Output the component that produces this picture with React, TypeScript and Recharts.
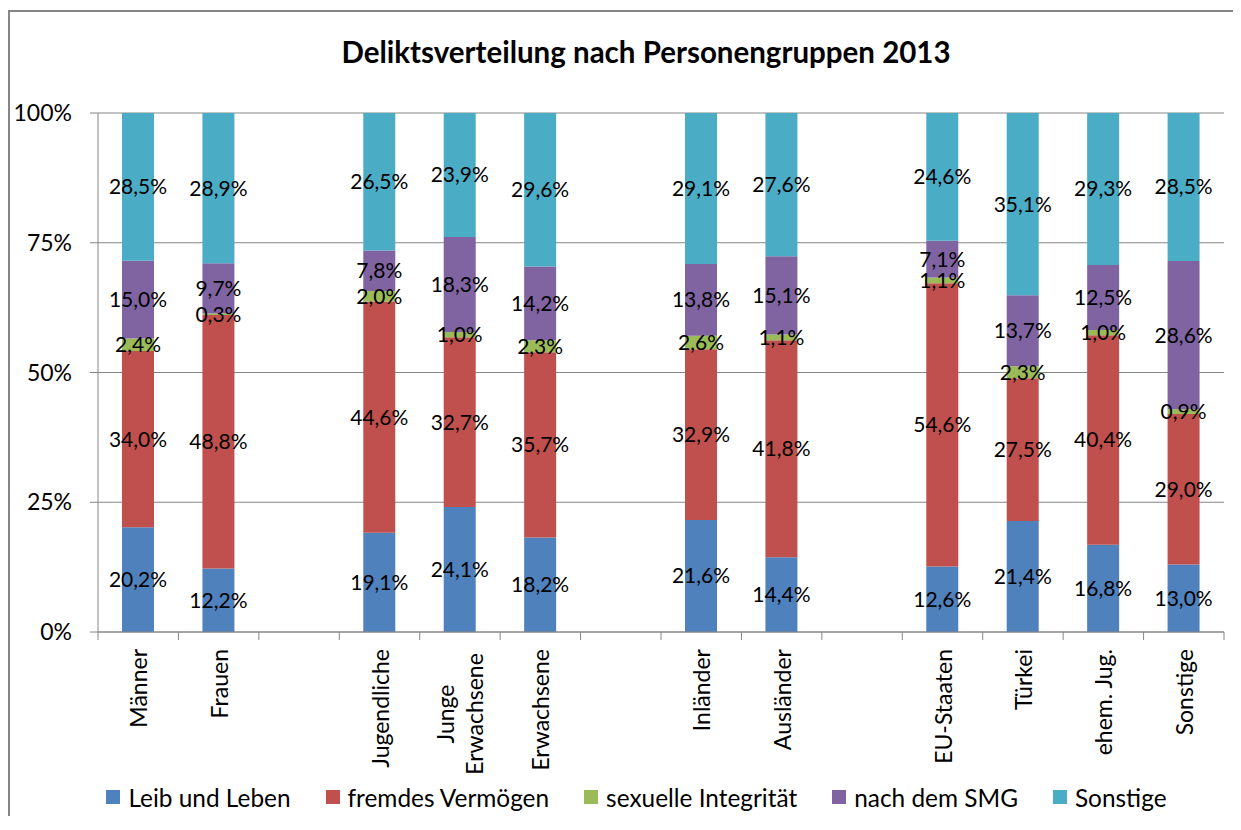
import React from "react";
import { BarChart, Bar, XAxis, YAxis, CartesianGrid, Legend, LabelList } from "recharts";

// empty strings are the gaps between groups
const categories = [
  "Männer",
  "Frauen",
  "",
  "Jugendliche",
  "Junge\nErwachsene",
  "Erwachsene",
  "",
  "Inländer",
  "Ausländer",
  "",
  "EU-Staaten",
  "Türkei",
  "ehem. Jug.",
  "Sonstige",
];

const leibUndLeben = [20.2, 12.2, null, 19.1, 24.1, 18.2, null, 21.6, 14.4, null, 12.6, 21.4, 16.8, 13.0];
const fremdesVermoegen = [34.0, 48.8, null, 44.6, 32.7, 35.7, null, 32.9, 41.8, null, 54.6, 27.5, 40.4, 29.0];
const sexuelleIntegritaet = [2.4, 0.3, null, 2.0, 1.0, 2.3, null, 2.6, 1.1, null, 1.1, 2.3, 1.0, 0.9];
const nachDemSMG = [15.0, 9.7, null, 7.8, 18.3, 14.2, null, 13.8, 15.1, null, 7.1, 13.7, 12.5, 28.6];
const sonstige = [28.5, 28.9, null, 26.5, 23.9, 29.6, null, 29.1, 27.6, null, 24.6, 35.1, 29.3, 28.5];

const yTicks = [0, 0.25, 0.5, 0.75, 1];

const series = [
  { key: "leib", name: "Leib und Leben", color: "#4F81BD", values: leibUndLeben },
  { key: "fremd", name: "fremdes Vermögen", color: "#C0504D", values: fremdesVermoegen },
  { key: "sex", name: "sexuelle Integrität", color: "#9BBB59", values: sexuelleIntegritaet },
  { key: "smg", name: "nach dem SMG", color: "#8064A2", values: nachDemSMG },
  { key: "sonst", name: "Sonstige", color: "#4BACC6", values: sonstige },
];

const data = categories.map((name, i) => {
  const row: Record<string, any> = { name };
  series.forEach((s) => {
    row[s.key] = s.values[i];
  });
  return row;
});

const FONT = "Lato, 'Open Sans', sans-serif";
const GRAY = "#868686";
const CHART_W = 1231;
const CHART_H = 808;
const PLOT_LEFT = 88;
const PLOT_RIGHT = 1214;
const PLOT_BOTTOM = 620;
const BAND = (PLOT_RIGHT - PLOT_LEFT) / categories.length;
const AXIS_FONT = 23;

const fmtPct = (v: any) => (v == null ? "" : `${Number(v).toFixed(1).replace(".", ",")}%`);

function CategoryTick(props: any) {
  const { x, payload, index } = props;
  const label: string = payload?.value ?? "";
  const lines = label ? label.split("\n") : [];
  const y0 = PLOT_BOTTOM;
  const isLast = index === categories.length - 1;
  return (
    <g>
      <line x1={x - BAND / 2} x2={x - BAND / 2} y1={y0} y2={y0 + 8} stroke={GRAY} />
      {isLast && <line x1={x + BAND / 2} x2={x + BAND / 2} y1={y0} y2={y0 + 8} stroke={GRAY} />}
      {lines.length === 1 && (
        <text
          transform={`translate(${x},${y0 + 17}) rotate(-90)`}
          textAnchor="end"
          dominantBaseline="central"
          fontFamily={FONT}
          fontSize={AXIS_FONT}
          fill="#000"
        >
          {lines[0]}
        </text>
      )}
      {lines.length > 1 && (
        <text
          transform={`translate(${x},${y0 + 17 + 65}) rotate(-90)`}
          textAnchor="middle"
          fontFamily={FONT}
          fontSize={AXIS_FONT}
          fill="#000"
        >
          {lines.map((ln, i) => (
            <tspan key={i} x={0} y={(i - 0.5) * 29} dominantBaseline="central">
              {ln}
            </tspan>
          ))}
        </text>
      )}
    </g>
  );
}

function LegendContent() {
  return (
    <div
      style={{
        display: "flex",
        justifyContent: "center",
        alignItems: "center",
        gap: 35,
        paddingLeft: 22,
        fontFamily: FONT,
        fontSize: 24.4,
        color: "#000",
        height: 30,
      }}
    >
      {series.map((s) => (
        <div key={s.key} style={{ display: "flex", alignItems: "center" }}>
          <span style={{ width: 14, height: 14, background: s.color, marginRight: 8, display: "inline-block" }} />
          <span>{s.name}</span>
        </div>
      ))}
    </div>
  );
}

export default function App() {
  return (
    <div
      style={{
        position: "relative",
        top: 2,
        width: CHART_W,
        height: CHART_H,
        borderTop: `2px solid ${GRAY}`,
        borderLeft: `2px solid ${GRAY}`,
        boxSizing: "border-box",
        overflow: "hidden",
      }}
    >
      <div
        style={{
          position: "absolute",
          left: 636,
          top: 23,
          transform: "translateX(-50%)",
          whiteSpace: "nowrap",
          fontFamily: FONT,
          fontWeight: 700,
          fontSize: 29.5,
          lineHeight: "34px",
          color: "#000",
        }}
      >
        Deliktsverteilung nach Personengruppen 2013
      </div>
      <div style={{ position: "absolute", left: 0, top: 0 }}>
        <BarChart
          width={CHART_W}
          height={CHART_H}
          data={data}
          stackOffset="expand"
          margin={{ top: 101, right: 17, left: 0, bottom: 18 }}
          barSize={32}
        >
          <CartesianGrid vertical={false} stroke={GRAY} />
          <XAxis
            dataKey="name"
            interval={0}
            height={140}
            tickLine={false}
            axisLine={{ stroke: GRAY }}
            tick={<CategoryTick />}
          />
          <YAxis
            width={88}
            domain={[0, 1]}
            ticks={yTicks}
            tickFormatter={(v: number) => `${Math.round(v * 100)}%`}
            tickSize={8}
            tickMargin={18}
            tickLine={{ stroke: GRAY }}
            axisLine={{ stroke: GRAY }}
            tick={{ fill: "#000", fontSize: AXIS_FONT, fontFamily: FONT }}
          />
          <Legend
            verticalAlign="bottom"
            height={30}
            wrapperStyle={{ top: 770, left: 0, width: CHART_W }}
            content={() => <LegendContent />}
          />
          {series.map((s) => (
            <Bar key={s.key} dataKey={s.key} name={s.name} stackId="a" fill={s.color} isAnimationActive={false}>
              <LabelList
                dataKey={s.key}
                position="center"
                formatter={fmtPct}
                fill="#000"
                fontSize={21}
                fontFamily={FONT}
              />
            </Bar>
          ))}
        </BarChart>
      </div>
    </div>
  );
}
